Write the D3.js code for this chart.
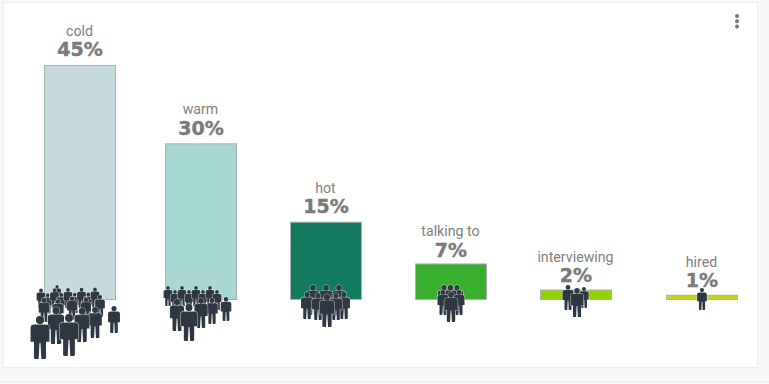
<!DOCTYPE html>
<html>
<head>
<meta charset="utf-8">
<style>
  html, body { margin: 0; padding: 0; background: #f7f7f7; }
  svg { display: block; }
</style>
<script src="https://cdn.jsdelivr.net/npm/d3@7"></script>
</head>
<body>
<svg id="chart" width="769" height="384"></svg>
<script>
// Recruiting pipeline stages and the share of candidates in each
const stages = ["cold", "warm", "hot", "talking to", "interviewing", "hired"];
const shares = [45, 30, 15, 7, 2, 1];
const shareLabels = ["45%", "30%", "15%", "7%", "2%", "1%"];
const stageColors = ["#c6d9dd", "#a6d7d2", "#137a60", "#3aae2e", "#94d10a", "#c8d414"];

const svg = d3.select("#chart");
const baseline = 300;

// Card and the faint rule under it
svg.append("rect").attr("x", 3.5).attr("y", 2.5).attr("width", 754).attr("height", 365)
  .attr("fill", "#ffffff").attr("stroke", "#eeeeee");
svg.append("line").attr("x1", 0).attr("x2", 769).attr("y1", 381.5).attr("y2", 381.5)
  .attr("stroke", "#ececec");

const y = d3.scaleLinear().domain([0, 45]).range([baseline, 65]);
const barWidth = 72;
const barCentres = [80, 201, 326, 451, 576, 702];
// Small upward gaps between text and bar differ per stage
const titleNudge = [0, 0, 0, 2, 1, 1];
const shareNudge = [0, 1, 0, 3, 1, 1];

const bars = svg.append("g");
stages.forEach((s, i) => {
  const top = y(shares[i]);
  const cx = barCentres[i];
  bars.append("rect")
    .attr("x", cx - barWidth / 2 + 0.5).attr("y", top + 0.5)
    .attr("width", barWidth - 1).attr("height", baseline - top - 1)
    .attr("fill", stageColors[i]).attr("stroke", "#a9b3b3").attr("stroke-width", 1);
  bars.append("text").attr("x", cx - 0.5).attr("y", top - 29 + titleNudge[i])
    .attr("text-anchor", "middle")
    .attr("font-family", "Roboto, sans-serif").attr("font-size", 14.2)
    .attr("fill", "#808080").text(s);
  bars.append("text").attr("x", cx).attr("y", top - 9 + shareNudge[i])
    .attr("text-anchor", "middle")
    .attr("font-family", "'DejaVu Sans', sans-serif").attr("font-weight", "bold").attr("font-size", 19)
    .attr("fill", "#7a7a7a").attr("stroke", "#7a7a7a").attr("stroke-width", 0.4)
    .text(shareLabels[i]);
});

// A single standing figure, one unit tall and centred on x = 0
const figurePath = d3.path();
figurePath.arc(0, 0.095, 0.095, 0, 2 * Math.PI);
figurePath.moveTo(-0.22, 0.28);
figurePath.quadraticCurveTo(-0.22, 0.2, -0.13, 0.2);
figurePath.lineTo(0.13, 0.2);
figurePath.quadraticCurveTo(0.22, 0.2, 0.22, 0.28);
figurePath.lineTo(0.22, 0.6);
figurePath.lineTo(0.14, 0.6);
figurePath.lineTo(0.14, 0.97);
figurePath.quadraticCurveTo(0.14, 1, 0.1, 1);
figurePath.lineTo(0.03, 1);
figurePath.lineTo(0.012, 0.62);
figurePath.lineTo(-0.012, 0.62);
figurePath.lineTo(-0.03, 1);
figurePath.lineTo(-0.1, 1);
figurePath.quadraticCurveTo(-0.14, 1, -0.14, 0.97);
figurePath.lineTo(-0.14, 0.6);
figurePath.lineTo(-0.22, 0.6);
figurePath.closePath();

// Crowd rows, drawn back to front; spans are relative to the bar centre.
// `zig` pushes every other figure of a row up and down.
const crowdRows = [
  [
    { n: 1, x: [-23, -23], top: [285, 285], h: [18, 18] },
    { n: 9, x: [-39, 15], top: [291, 290], h: [20, 20], zig: 2.5 },
    { n: 5, x: [-36, 20], top: [299, 296], h: [24, 22], zig: 1 },
    { n: 2, x: [15, 34], top: [307, 306], h: [31, 27] },
    { n: 2, x: [-24, 2], top: [307, 308], h: [37, 34] },
    { n: 2, x: [-40, -11], top: [316, 314], h: [43, 42] }
  ],
  [
    { n: 8, x: [-33, 16], top: [288, 288], h: [20, 20], zig: 2 },
    { n: 2, x: [11, 25], top: [298, 297], h: [26, 24] },
    { n: 2, x: [-24, 0], top: [299, 298], h: [32, 30] },
    { n: 1, x: [-12, -12], top: [304, 304], h: [37, 37] }
  ],
  [
    { n: 3, x: [-13, 13], top: [285, 285], h: [30, 30] },
    { n: 2, x: [-19, 18], top: [292, 292], h: [27, 27] },
    { n: 2, x: [-8, 10], top: [293, 293], h: [27, 27] },
    { n: 1, x: [1, 1], top: [294, 294], h: [33, 33] }
  ],
  [
    { n: 3, x: [-7, 6], top: [285, 285], h: [28, 28] },
    { n: 2, x: [-8, 8], top: [290, 290], h: [25, 25] },
    { n: 1, x: [0, 0], top: [292, 292], h: [30, 30] }
  ],
  [
    { n: 2, x: [-8, 8], top: [285, 287], h: [25, 21] },
    { n: 1, x: [1, 1], top: [288, 288], h: [29, 29] }
  ],
  [
    { n: 1, x: [0, 0], top: [288, 288], h: [22, 22] }
  ]
];

const crowds = svg.append("g");
stages.forEach((s, i) => {
  const cx = barCentres[i];
  crowdRows[i].forEach(row => {
    const t = d3.scaleLinear().domain([0, Math.max(row.n - 1, 1)]);
    const px = t.copy().range(row.x);
    const pTop = t.copy().range(row.top);
    const pH = t.copy().range(row.h);
    d3.range(row.n).forEach(k => {
      const h = pH(k);
      const zig = (row.zig || 0) * (k % 2 ? 1 : -1);
      crowds.append("path")
        .attr("d", figurePath.toString())
        .attr("transform", `translate(${cx + px(k)},${pTop(k) + zig}) scale(${h})`)
        .attr("fill", "#2f3742")
        .attr("stroke", "#ffffff").attr("stroke-opacity", 0.6)
        .attr("stroke-width", 1.2 / h)
        .attr("paint-order", "stroke");
    });
  });
});

// Overflow menu
svg.append("g").selectAll("circle").data(["a", "b", "c"]).join("circle")
  .attr("cx", 737).attr("cy", (d, i) => 16 + i * 5.2).attr("r", 2)
  .attr("fill", "#777777");
</script>
</body>
</html>
